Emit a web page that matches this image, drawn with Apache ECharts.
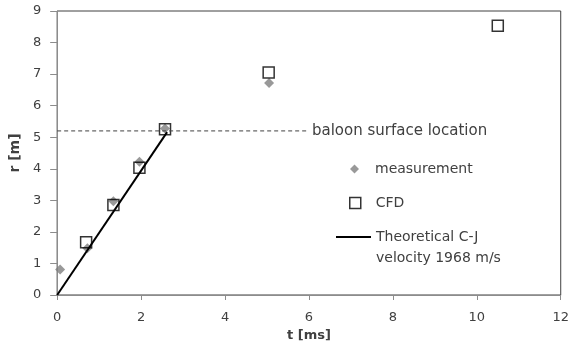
<!DOCTYPE html>
<html>
<head>
<meta charset="utf-8">
<script src="https://cdn.jsdelivr.net/npm/echarts@6/dist/echarts.min.js"></script>
<style>
  html, body { margin: 0; padding: 0; background: #fff; }
  #chart { width: 572px; height: 347px; }
</style>
</head>
<body>
<div id="chart"></div>
<script>
// values
var measT = [0.07, 0.72, 1.34, 1.96, 2.57, 5.05]
var measR = [0.81, 1.48, 2.97, 4.22, 5.28, 6.72]
var cfdT = [0.69, 1.34, 1.96, 2.57, 5.04, 10.5]
var cfdR = [1.67, 2.85, 4.03, 5.25, 7.05, 8.53]
var theoryT = [0, 2.62]
var theoryR = [0, 5.16]
var baloonT = [0, 6]
var baloonR = [5.2, 5.2]

var measName = 'measurement'
var cfdName = 'CFD'
var theoryName = 'Theoretical C-J\nvelocity 1968 m/s'
var baloonName = 'baloon surface location'

function pairs(xs, ys) {
    return xs.map(function(x, i) { return [x, ys[i]] })
}

var font = 'DejaVu Sans'
var textColor = '#404040'

function legendText(pad) {
    return {
        fontFamily: font,
        fontSize: 14,
        color: textColor,
        rich: { t: { fontFamily: font, fontSize: 14, color: textColor, padding: [0, 0, 0, pad] } }
    }
}

var chart = echarts.init(document.getElementById('chart'))
chart.setOption({
    animation: false,
    grid: {
        left: 57,
        right: 10,
        top: 11,
        bottom: 52,
        show: true,
        borderColor: '#404040',
        borderWidth: 1
    },
    legend: [
        {
            left: 350,
            top: 162,
            padding: 0,
            itemWidth: 9,
            itemHeight: 9,
            selectedMode: false,
            data: [{ name: measName, icon: 'diamond', itemStyle: { color: '#7f7f7f' } }],
            formatter: '{t|{name}}',
            textStyle: legendText(11)
        },
        {
            left: 349,
            top: 196,
            padding: 0,
            itemWidth: 11,
            itemHeight: 11,
            selectedMode: false,
            data: [{ name: cfdName, icon: 'rect', itemStyle: { color: '#fff', borderColor: '#000', borderWidth: 1.5 } }],
            formatter: '{t|{name}}',
            textStyle: legendText(10)
        },
        {
            left: 336,
            top: 205.5,
            padding: 0,
            itemWidth: 35,
            itemHeight: 2,
            selectedMode: false,
            data: [{ name: theoryName, icon: 'rect', itemStyle: { color: '#000', borderWidth: 0 } }],
            formatter: function(name) { return ' \n' + name },
            textStyle: { fontFamily: font, fontSize: 14, color: textColor, lineHeight: 21 }
        }
    ],
    xAxis: {
        type: 'value',
        min: 0,
        max: 12,
        interval: 2,
        name: 't [ms]',
        nameLocation: 'middle',
        nameGap: 34,
        nameTextStyle: { fontFamily: font, fontSize: 13, fontWeight: 'bold', color: textColor },
        splitLine: { show: false },
        axisLine: { lineStyle: { color: '#8c8c8c', width: 1 } },
        axisTick: { show: true, length: 5, lineStyle: { color: '#8c8c8c' } },
        axisLabel: { fontFamily: font, fontSize: 13, color: textColor, margin: 16 }
    },
    yAxis: {
        type: 'value',
        min: 0,
        max: 9,
        interval: 1,
        name: 'r [m]',
        nameLocation: 'middle',
        nameGap: 34,
        nameTextStyle: { fontFamily: font, fontSize: 14, fontWeight: 'bold', color: textColor },
        splitLine: { show: false },
        axisLine: { show: true, lineStyle: { color: '#8c8c8c', width: 1 } },
        axisTick: { show: true, length: 7, lineStyle: { color: '#8c8c8c' } },
        axisLabel: { fontFamily: font, fontSize: 13, color: textColor, margin: 16 }
    },
    series: [
        {
            name: baloonName,
            type: 'line',
            data: pairs(baloonT, baloonR),
            showSymbol: false,
            symbol: 'none',
            lineStyle: { color: '#404040', width: 1, type: [4, 3] },
            endLabel: {
                show: true,
                formatter: '{a}',
                distance: 3,
                fontFamily: font,
                fontSize: 15,
                color: textColor
            }
        },
        {
            name: measName,
            type: 'scatter',
            data: pairs(measT, measR),
            symbol: 'diamond',
            symbolSize: 10,
            itemStyle: { color: '#7f7f7f' }
        },
        {
            name: cfdName,
            type: 'scatter',
            data: pairs(cfdT, cfdR),
            symbol: 'rect',
            symbolSize: 11,
            itemStyle: { color: 'rgba(255,255,255,0)', borderColor: '#000', borderWidth: 1.5 }
        },
        {
            name: theoryName,
            type: 'line',
            data: pairs(theoryT, theoryR),
            showSymbol: false,
            symbol: 'none',
            lineStyle: { color: '#000', width: 2 }
        }
    ]
})
</script>
</body>
</html>
